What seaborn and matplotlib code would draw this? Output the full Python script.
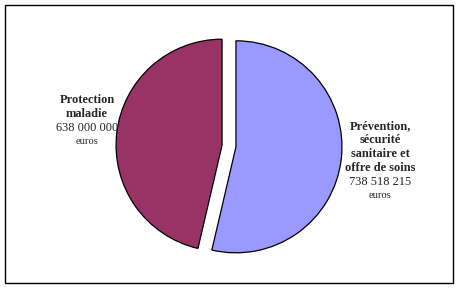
import matplotlib
matplotlib.use("Agg")
import matplotlib.pyplot as plt
from matplotlib.patches import Rectangle
import seaborn as sns

categories = ["Prévention,\nsécurité\nsanitaire et\noffre de soins", "Protection\nmaladie"]
values = [738518215, 638000000]
value_labels = ["738 518 215", "638 000 000"]
colors = ["#9999FF", "#993366"]

sns.set_theme(style="white")
plt.rcParams['font.family'] = ['Liberation Serif', 'DejaVu Serif']

W, H = 458, 288
fig = plt.figure(figsize=(W / 100, H / 100), dpi=100)
fig.patch.set_facecolor("white")

cx, cy, R = 229, 288 - 146, 106
span = 1.2
size = 2 * span * R
ax = fig.add_axes([(cx - size / 2) / W, (cy - size / 2) / H, size / W, size / H])
palette = sns.color_palette(colors)
ax.pie(values, colors=palette, startangle=90, counterclock=False,
       explode=[0.066, 0.066],
       wedgeprops=dict(edgecolor="black", linewidth=0.9))
ax.set_xlim(-span, span)
ax.set_ylim(-span, span)
ax.set_aspect("equal")
ax.axis("off")

fs = 8.9
def label(xpx, ytop, name, val):
    lines = name.split("\n")
    y = ytop
    step = 14
    for ln in lines:
        fig.text(xpx / W, 1 - y / H, ln, ha="center", va="center", fontsize=fs, fontweight="bold")
        y += step
    fig.text(xpx / W, 1 - y / H, val, ha="center", va="center", fontsize=fs)
    y += step
    fig.text(xpx / W, 1 - y / H, "euros", ha="center", va="center", fontsize=fs * 0.85)

label(380, 126, categories[0], value_labels[0])
label(87, 100, categories[1], value_labels[1])

fig.add_artist(Rectangle((5 / W, 5 / H), (W - 10) / W, (H - 10) / H, transform=fig.transFigure,
                         fill=False, edgecolor="black", linewidth=1))

fig.savefig("out.png", dpi=100)
